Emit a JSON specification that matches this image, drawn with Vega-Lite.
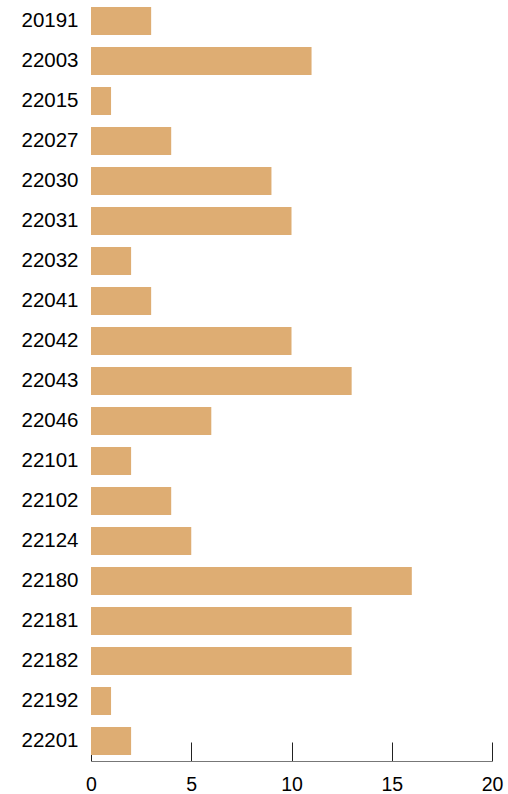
{
  "$schema": "https://vega.github.io/schema/vega-lite/v6.json",
  "autosize": {"type": "none"},
  "padding": {"left": 91, "top": 1, "right": 16, "bottom": 33},
  "width": 401,
  "height": 760,
  "data": {"values": [
    {"id": "20191", "count": 3},
    {"id": "22003", "count": 11},
    {"id": "22015", "count": 1},
    {"id": "22027", "count": 4},
    {"id": "22030", "count": 9},
    {"id": "22031", "count": 10},
    {"id": "22032", "count": 2},
    {"id": "22041", "count": 3},
    {"id": "22042", "count": 10},
    {"id": "22043", "count": 13},
    {"id": "22046", "count": 6},
    {"id": "22101", "count": 2},
    {"id": "22102", "count": 4},
    {"id": "22124", "count": 5},
    {"id": "22180", "count": 16},
    {"id": "22181", "count": 13},
    {"id": "22182", "count": 13},
    {"id": "22192", "count": 1},
    {"id": "22201", "count": 2}
  ]},
  "config": {"view": {"stroke": null}, "font": "Liberation Sans"},
  "mark": {"type": "bar", "color": "#DEAD73"},
  "encoding": {
    "y": {"field": "id", "type": "nominal", "sort": null,
      "scale": {"paddingInner": 0.3, "paddingOuter": 0.15},
      "axis": {"title": null, "domain": false, "ticks": false, "labelPadding": 13, "labelFontSize": 20.5, "labelColor": "#000", "labelFont": "Liberation Sans"}},
    "x": {"field": "count", "type": "quantitative",
      "scale": {"domain": [0, 20], "nice": false},
      "axis": {"title": null, "grid": false, "values": [0, 5, 10, 15, 20], "tickSize": -19, "tickColor": "#222", "domainColor": "#777", "labelFontSize": 19.5, "labelColor": "#000", "labelPadding": 33, "labelFont": "Liberation Sans", "labelFlush": false}}
  }
}
